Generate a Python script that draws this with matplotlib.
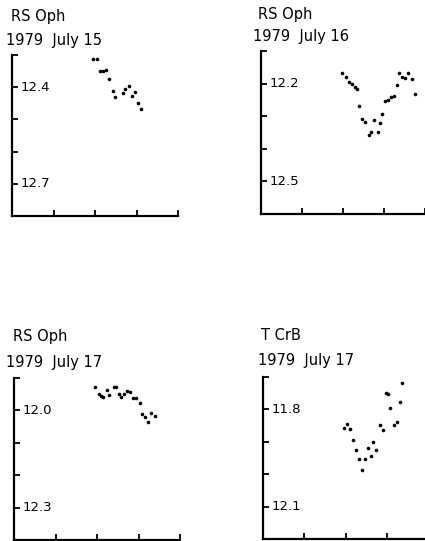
import matplotlib
matplotlib.use("Agg")
import matplotlib.pyplot as plt
import matplotlib.transforms as mtransforms

plt.rcParams['font.family'] = ['DejaVu Sans']

W, H = 425, 541

# ---- data (x in hours of the run, magnitudes) ----
p1_star = "RS Oph"
p1_date = "1979  July 15"
p1_x = [1.95, 2.05, 2.12, 2.19, 2.27, 2.34, 2.43, 2.48, 2.67, 2.72, 2.82, 2.89, 2.96, 3.04, 3.11]
p1_y = [12.312, 12.312, 12.350, 12.350, 12.347, 12.375, 12.412, 12.431, 12.419, 12.406, 12.397, 12.428, 12.416, 12.450, 12.469]
p1_ylim = (12.3, 12.8)
p1_yticks = [12.3, 12.4, 12.5, 12.6, 12.7, 12.8]
p1_ylabels = {12.4: "12.4", 12.7: "12.7"}

p2_star = "RS Oph"
p2_date = "1979  July 16"
p2_x = [1.98, 2.07, 2.15, 2.21, 2.29, 2.33, 2.40, 2.47, 2.54, 2.63, 2.68, 2.76, 2.85, 2.91, 2.96,
        3.03, 3.09, 3.17, 3.25, 3.32, 3.37, 3.43, 3.50, 3.59, 3.69, 3.76]
p2_y = [12.169, 12.181, 12.194, 12.201, 12.211, 12.218, 12.269, 12.309, 12.319, 12.359, 12.349,
        12.313, 12.348, 12.321, 12.294, 12.254, 12.250, 12.240, 12.237, 12.203, 12.169, 12.179,
        12.183, 12.169, 12.185, 12.233]
p2_ylim = (12.1, 12.6)
p2_yticks = [12.1, 12.2, 12.3, 12.4, 12.5, 12.6]
p2_ylabels = {12.2: "12.2", 12.5: "12.5"}

p3_star = "RS Oph"
p3_date = "1979  July 17"
p3_x = [1.96, 2.04, 2.10, 2.15, 2.23, 2.30, 2.40, 2.46, 2.53, 2.58, 2.65, 2.73, 2.80, 2.86, 2.93,
        3.03, 3.09, 3.16, 3.24, 3.31, 3.39]
p3_y = [11.927, 11.949, 11.955, 11.959, 11.936, 11.951, 11.927, 11.927, 11.949, 11.958, 11.949,
        11.941, 11.942, 11.961, 11.963, 11.976, 12.012, 12.019, 12.035, 12.007, 12.018]
p3_ylim = (11.9, 12.4)
p3_yticks = [11.9, 12.0, 12.1, 12.2, 12.3, 12.4]
p3_ylabels = {12.0: "12.0", 12.3: "12.3"}

p4_star = "T CrB"
p4_date = "1979  July 17"
p4_x = [1.97, 2.03, 2.12, 2.19, 2.26, 2.33, 2.40, 2.48, 2.54, 2.61, 2.67, 2.75, 2.83, 2.91, 2.97,
        3.03, 3.09, 3.18, 3.24, 3.31, 3.37]
p4_y = [11.857, 11.845, 11.860, 11.894, 11.924, 11.952, 11.987, 11.952, 11.920, 11.945, 11.902,
        11.926, 11.848, 11.864, 11.750, 11.752, 11.797, 11.848, 11.838, 11.778, 11.717]
p4_ylim = (11.7, 12.2)
p4_yticks = [11.7, 11.8, 11.9, 12.0, 12.1, 12.2]
p4_ylabels = {11.8: "11.8", 12.1: "12.1"}

xlim = (0, 4)
xticks = [0, 1, 2, 3, 4]

panels = [
    # (star, date, x, y, ylim, yticks, ylabels, axes px box (l, t, r, b), title px (x1, y1, x2, y2))
    (p1_star, p1_date, p1_x, p1_y, p1_ylim, p1_yticks, p1_ylabels, (12, 55, 178, 216), (11, 17, 6, 40)),
    (p2_star, p2_date, p2_x, p2_y, p2_ylim, p2_yticks, p2_ylabels, (261, 51, 425, 214), (258, 15, 253, 37)),
    (p3_star, p3_date, p3_x, p3_y, p3_ylim, p3_yticks, p3_ylabels, (14, 378, 180, 540), (13, 337, 6, 363)),
    (p4_star, p4_date, p4_x, p4_y, p4_ylim, p4_yticks, p4_ylabels, (263, 377, 428, 539), (261, 336, 258, 361)),
]

fig = plt.figure(figsize=(W / 100, H / 100), dpi=100)
fig.patch.set_facecolor("white")

for star, date, xs, ys, ylim, yticks, ylabels, box, tpos in panels:
    l, t, r, b = box
    ax = fig.add_axes([l / W, 1 - b / H, (r - l) / W, (b - t) / H])
    ax.set_facecolor("none")
    ax.plot(xs, ys, linestyle="none", marker="o", markersize=2.6, color="black",
            markeredgewidth=0, clip_on=False)
    ax.set_xlim(*xlim)
    ax.set_ylim(ylim[1], ylim[0])
    ax.set_xticks(xticks)
    ax.set_yticks(yticks)
    ax.set_xticklabels([])
    ax.set_yticklabels([])
    for s in ("top", "right"):
        ax.spines[s].set_visible(False)
    for s in ("left", "bottom"):
        ax.spines[s].set_linewidth(1.6)
        ax.spines[s].set_color("black")
    ax.tick_params(axis="both", direction="in", length=4, width=1.3, color="black")
    trans = mtransforms.blended_transform_factory(ax.transAxes, ax.transData)
    for val, lab in ylabels.items():
        ax.text(0.05, val, lab, transform=trans, ha="left", va="center",
                fontsize=9.5, color="black")
    x1, y1, x2, y2 = tpos
    fig.text(x1 / W, 1 - y1 / H, star, ha="left", va="center", fontsize=10.5, color="black")
    fig.text(x2 / W, 1 - y2 / H, date, ha="left", va="center", fontsize=10.5, color="black")

fig.savefig("out.png", dpi=100, facecolor="white")
